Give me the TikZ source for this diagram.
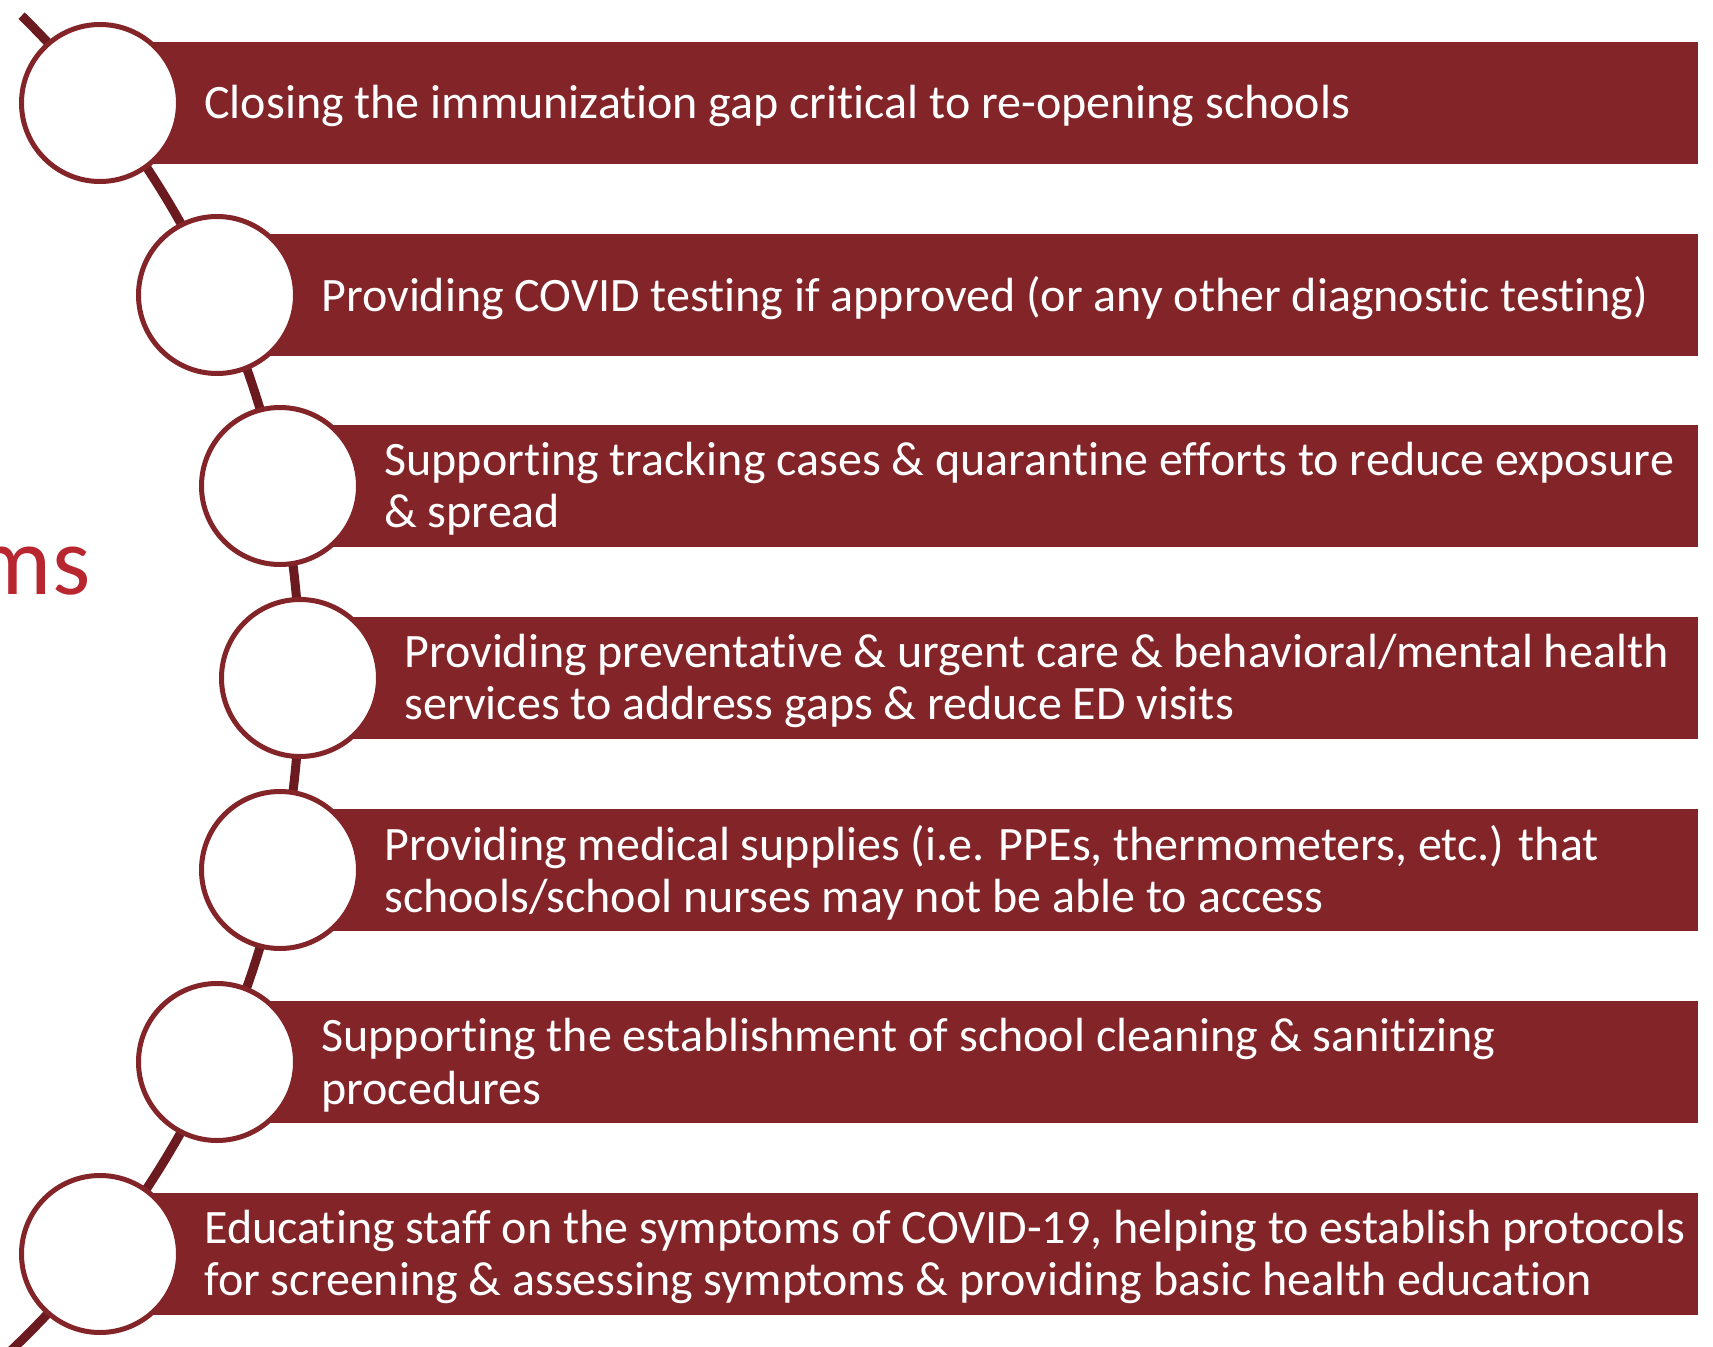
\documentclass[tikz,border=0pt]{standalone}
\usepackage{fontspec}
\setmainfont{Carlito}[Ligatures=NoCommon]
\definecolor{barred}{HTML}{832428}
\definecolor{chainred}{HTML}{6B1A1F}
\definecolor{titlered}{HTML}{B8262F}
\begin{document}
\begin{tikzpicture}[x=0.5pt,y=-0.5pt,
  bubble/.style={circle, draw=barred, line width=2.5pt, fill=white, minimum size=78.5pt, inner sep=0pt},
  bartext/.style={anchor=west, inner sep=0pt, text=white, align=left, font=\fontsize{24}{26.2}\selectfont}]
\useasboundingbox (0,0) rectangle (1713,1347);
\coordinate (hub) at (-627,678);
\draw[chainred, line width=4.5pt] (hub) ++(-45.6:927) coordinate (top) arc[start angle=-45.6, end angle=47, radius=927];
\node[titlered, anchor=base east, inner sep=0pt, font=\fontsize{49}{50}\selectfont] (title) at (91,595) {ms};
\foreach \i/\x/\y/\txt in {
  1/100/103/{Closing the immunization gap critical to re-opening schools},
  2/217/295/{Providing COVID testing if approved (or any other diagnostic testing)},
  3/280/486/{Supporting tracking cases \& quarantine efforts to reduce exposure\\ \& spread},
  4/300/678/{Providing preventative \& urgent care \& behavioral/mental health\\ services to address gaps \& reduce ED visits},
  5/280/870/{Providing medical supplies (i.e. PPEs, thermometers, etc.) that\\ schools/school nurses may not be able to access},
  6/217/1062/{Supporting the establishment of school cleaning \& sanitizing\\ procedures},
  7/100/1254/{Educating staff on the symptoms of COVID-19, helping to establish protocols\\ for screening \& assessing symptoms \& providing basic health education}}
{
  \fill[barred] (\x,\y-61) rectangle (1698,\y+61);
  \node[bubble] (c\i) at (\x,\y) {};
  \node[bartext] (t\i) at (\x+104,\y+3) {\txt};
}
\end{tikzpicture}
\end{document}
